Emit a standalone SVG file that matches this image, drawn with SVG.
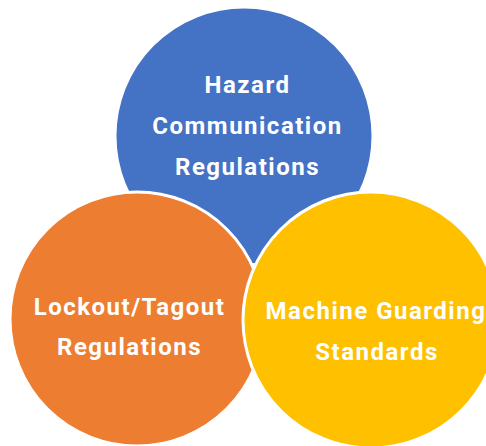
<svg xmlns="http://www.w3.org/2000/svg" width="486" height="446" viewBox="0 0 486 446">
<style>
.c{stroke:#fff;stroke-width:3}
.t{font-family:Roboto,"Liberation Sans",sans-serif;font-weight:bold;font-size:24px;fill:#fff;text-anchor:middle;letter-spacing:1.5px}
</style>
<rect width="486" height="446" fill="#fff"/>
<g id="hazard">
<circle class="c" cx="244" cy="136" r="129" fill="#4472C4"/>
<text class="t" x="247.5" y="93">Hazard</text>
<text class="t" x="247.5" y="134">Communication</text>
<text class="t" x="247.5" y="175">Regulations</text>
</g>
<g id="lockout">
<circle class="c" cx="137" cy="319" r="127" fill="#ED7D31"/>
<text class="t" x="129.5" y="315">Lockout/Tagout</text>
<text class="t" x="129.5" y="355">Regulations</text>
</g>
<g id="machine">
<circle class="c" cx="371" cy="320" r="128" fill="#FFC000"/>
<text class="t" x="376" y="319">Machine Guarding</text>
<text class="t" x="377" y="360">Standards</text>
</g>
<g id="connectors"></g>
</svg>
